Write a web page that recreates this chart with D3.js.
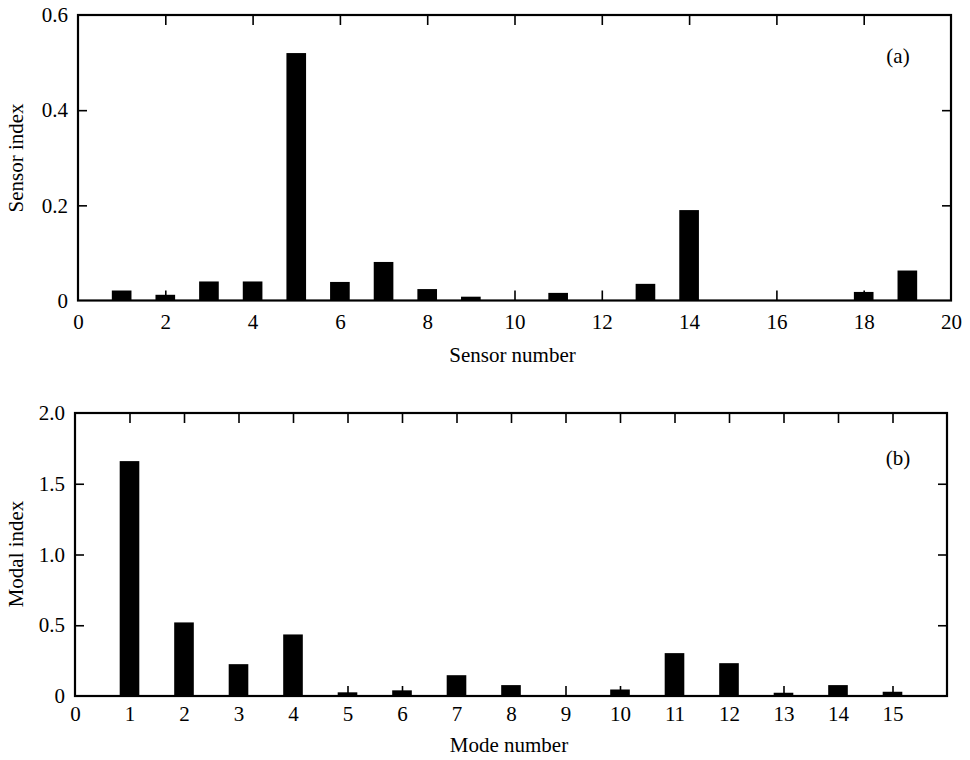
<!DOCTYPE html>
<html>
<head>
<meta charset="utf-8">
<script src="https://cdn.jsdelivr.net/npm/d3@7"></script>
<style>
  body { margin: 0; background: white; }
  text { font-family: "Liberation Serif", "DejaVu Serif", serif; fill: black; }
</style>
</head>
<body>
<div id="vis"></div>
<script>
// (a) sensor index per sensor number
let sensorNums = [1, 2, 3, 4, 5, 6, 7, 8, 9, 10, 11, 12, 13, 14, 15, 16, 17, 18, 19];
let sensorIdx = [0.021, 0.012, 0.040, 0.040, 0.520, 0.039, 0.081, 0.024, 0.008, 0, 0.016, 0, 0.035, 0.190, 0, 0, 0, 0.018, 0.063];
let sensorXTicks = [0, 2, 4, 6, 8, 10, 12, 14, 16, 18, 20];
let sensorYTicks = [0, 0.2, 0.4, 0.6];
let sensorYLabels = ['0', '0.2', '0.4', '0.6'];

// (b) modal index per mode number
let modeNums = [1, 2, 3, 4, 5, 6, 7, 8, 9, 10, 11, 12, 13, 14, 15];
let modalIdx = [1.66, 0.52, 0.225, 0.435, 0.026, 0.04, 0.147, 0.077, 0, 0.046, 0.303, 0.232, 0.023, 0.077, 0.03];
let modeXTicks = [0, 1, 2, 3, 4, 5, 6, 7, 8, 9, 10, 11, 12, 13, 14, 15];
let modalYTicks = [0, 0.5, 1.0, 1.5, 2.0];
let modalYLabels = ['0', '0.5', '1.0', '1.5', '2.0'];

let W = 970, H = 760;

let svg = d3.select('#vis')
  .append('svg')
  .attr('width', W)
  .attr('height', H)
  .attr('viewBox', [0, 0, W, H].join(' '))
  .style('background-color', 'white');

function panel(o) {
  let x = d3.scaleLinear().domain(o.xDomain).range([o.left, o.right]);
  let y = d3.scaleLinear().domain(o.yDomain).range([o.bottom, o.top]);
  let g = svg.append('g');
  let innerTicks = o.xTicks.filter(d => d > o.xDomain[0] && d < o.xDomain[1]);
  let innerY = o.yTicks.filter(d => d > o.yDomain[0] && d < o.yDomain[1]);

  // bars
  g.selectAll('rect.bar')
    .data(o.cats.map((c, i) => ({c: c, v: o.vals[i]})))
    .join('rect')
    .attr('class', 'bar')
    .attr('x', d => x(d.c - o.barW / 2))
    .attr('width', d => x(d.c + o.barW / 2) - x(d.c - o.barW / 2))
    .attr('y', d => y(d.v))
    .attr('height', d => y(0) - y(d.v))
    .attr('fill', 'black');

  // bottom axis with labels, ticks pointing inward
  let bottom = g.append('g')
    .attr('transform', 'translate(0,' + o.bottom + ')')
    .call(d3.axisBottom(x).tickValues(o.xTicks).tickSize(0).tickPadding(o.xPad).tickFormat(d3.format('d')));
  bottom.select('.domain').remove();
  bottom.selectAll('text').attr('font-size', 21).style('font-family', '"Liberation Serif", serif');

  let bt = g.append('g')
    .attr('transform', 'translate(0,' + o.bottom + ')')
    .call(d3.axisBottom(x).tickValues(innerTicks).tickSize(-10).tickFormat(''));
  bt.select('.domain').remove();
  let tt = g.append('g')
    .attr('transform', 'translate(0,' + o.top + ')')
    .call(d3.axisTop(x).tickValues(innerTicks).tickSize(-10).tickFormat(''));
  tt.select('.domain').remove();

  // left axis with labels
  let left = g.append('g')
    .attr('transform', 'translate(' + o.left + ',0)')
    .call(d3.axisLeft(y).tickValues(o.yTicks).tickSize(0).tickPadding(10).tickFormat((d, i) => o.yLabels[i]));
  left.select('.domain').remove();
  left.selectAll('text').attr('font-size', 21).style('font-family', '"Liberation Serif", serif');

  let lt = g.append('g')
    .attr('transform', 'translate(' + o.left + ',0)')
    .call(d3.axisLeft(y).tickValues(innerY).tickSize(-9).tickFormat(''));
  lt.select('.domain').remove();
  let rt = g.append('g')
    .attr('transform', 'translate(' + o.right + ',0)')
    .call(d3.axisRight(y).tickValues(innerY).tickSize(-9).tickFormat(''));
  rt.select('.domain').remove();

  g.selectAll('.tick line').attr('stroke', 'black').attr('stroke-width', 1.6);

  // frame
  g.append('rect')
    .attr('x', o.left).attr('y', o.top)
    .attr('width', o.right - o.left).attr('height', o.bottom - o.top)
    .attr('fill', 'none').attr('stroke', 'black').attr('stroke-width', 2.2);

  // titles
  g.append('text')
    .attr('x', (o.left + o.right) / 2 - 2)
    .attr('y', o.xTitleY)
    .attr('text-anchor', 'middle')
    .attr('font-size', 21)
    .text(o.xTitle);
  g.append('text')
    .attr('transform', 'translate(23,' + o.yTitleY + ') rotate(-90)')
    .attr('text-anchor', 'middle')
    .attr('font-size', 21)
    .text(o.yTitle);
  g.append('text')
    .attr('x', 898)
    .attr('y', o.tagY)
    .attr('text-anchor', 'middle')
    .attr('font-size', 21)
    .text(o.tag);
}

panel({
  cats: sensorNums, vals: sensorIdx, barW: 0.45,
  xDomain: [0, 20], yDomain: [0, 0.6],
  xTicks: sensorXTicks, yTicks: sensorYTicks, yLabels: sensorYLabels,
  left: 78, right: 951, top: 15, bottom: 300.5, xPad: 14,
  xTitle: 'Sensor number', xTitleY: 362,
  yTitle: 'Sensor index', yTitleY: 158,
  tag: '(a)', tagY: 63
});

panel({
  cats: modeNums, vals: modalIdx, barW: 0.36,
  xDomain: [0, 16], yDomain: [0, 2.0],
  xTicks: modeXTicks, yTicks: modalYTicks, yLabels: modalYLabels,
  left: 75, right: 947, top: 413, bottom: 696, xPad: 10,
  xTitle: 'Mode number', xTitleY: 752,
  yTitle: 'Modal index', yTitleY: 554,
  tag: '(b)', tagY: 465
});
</script>
</body>
</html>
